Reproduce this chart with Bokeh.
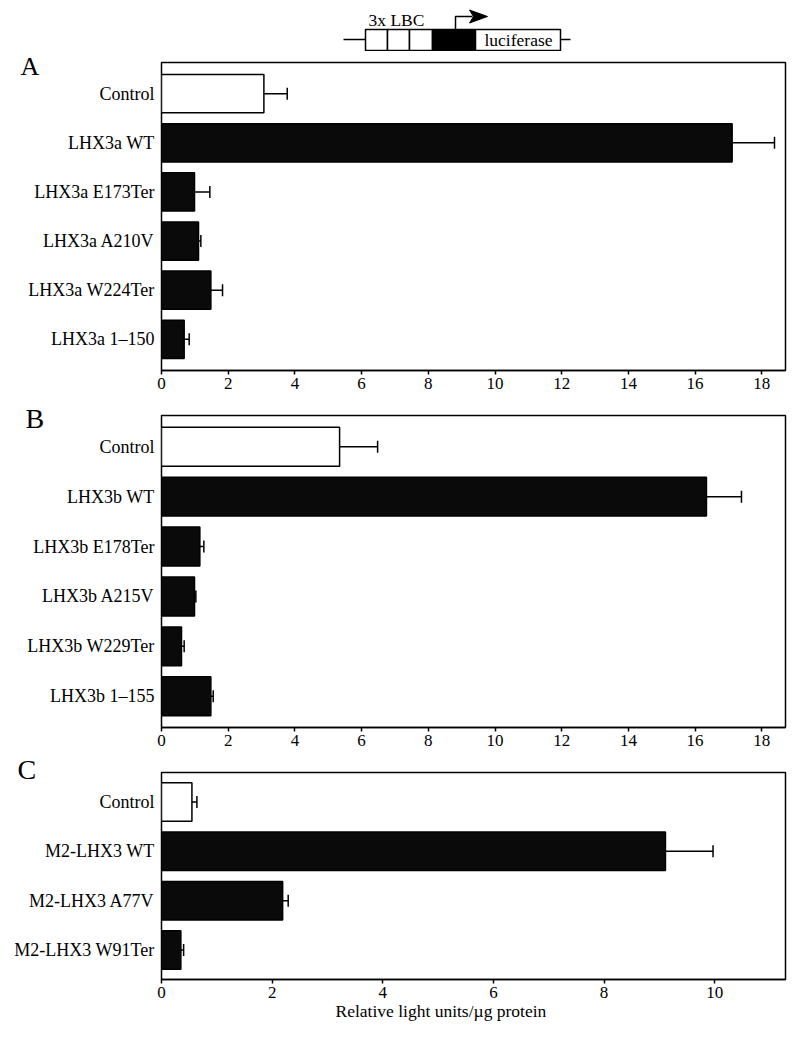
from bokeh.plotting import figure
from bokeh.models import (FactorRange, Range1d, ColumnDataSource, Whisker, TeeHead,
                          FixedTicker, Title)
from bokeh.layouts import column
from bokeh.embed import file_html
from bokeh.resources import INLINE
from bokeh.core.properties import value

FONT = "Liberation Serif"

# ---- data ----
cats_a = ["Control", "LHX3a WT", "LHX3a E173Ter", "LHX3a A210V", "LHX3a W224Ter", "LHX3a 1\u2013150"]
vals_a = [3.07, 17.11, 0.99, 1.11, 1.48, 0.68]
errs_a = [0.70, 1.27, 0.46, 0.07, 0.35, 0.15]

cats_b = ["Control", "LHX3b WT", "LHX3b E178Ter", "LHX3b A215V", "LHX3b W229Ter", "LHX3b 1\u2013155"]
vals_b = [5.34, 16.34, 1.15, 0.99, 0.60, 1.48]
errs_b = [1.14, 1.05, 0.12, 0.04, 0.08, 0.07]

cats_c = ["Control", "M2-LHX3 WT", "M2-LHX3 A77V", "M2-LHX3 W91Ter"]
vals_c = [0.55, 9.11, 2.19, 0.35]
errs_c = [0.09, 0.86, 0.10, 0.05]

ticks_ab = [0, 2, 4, 6, 8, 10, 12, 14, 16, 18]
ticks_c = [0, 2, 4, 6, 8, 10]

x_label = "Relative light units/\u00b5g protein"

# schematic of the reporter construct (pixel coordinates)
diag_box_left = [365, 387, 409, 432, 475]
diag_box_right = [387, 409, 432, 475, 560]
diag_box_fill = ["white", "white", "white", "black", "white"]

LEFT = 161
FRAME_W = 624
RIGHT = 10
DIAG_H = 51


def panel(cats, vals, errs, xmax, ticks, frame_h, top, bottom, pad,
          letter, lsize, loff, lstand):
    fills = ["white"] + ["#0a0a0a"] * (len(cats) - 1)
    src = ColumnDataSource(dict(cat=cats, val=vals,
                                up=[v + e for v, e in zip(vals, errs)], fill=fills))
    yr = FactorRange(factors=list(reversed(cats)), range_padding=pad,
                     range_padding_units="percent")
    p = figure(frame_width=FRAME_W, frame_height=frame_h, x_range=Range1d(0, xmax), y_range=yr,
               output_backend="svg", toolbar_location=None,
               min_border_left=LEFT, min_border_right=RIGHT,
               min_border_top=top, min_border_bottom=bottom,
               background_fill_color="white", border_fill_color="white")
    p.hbar(y="cat", left=0, right="val", height=0.78, fill_color="fill",
           line_color="black", line_width=1.5, source=src)
    w = Whisker(base="cat", lower="val", upper="up", source=src, dimension="width",
                line_color="black", line_width=1.5,
                upper_head=TeeHead(size=12, line_color="black", line_width=1.5),
                lower_head=None)
    p.add_layout(w)
    p.grid.visible = False
    p.outline_line_color = "black"
    p.outline_line_width = 1.5
    p.outline_line_alpha = 1.0

    xa = p.xaxis[0]
    xa.ticker = FixedTicker(ticks=ticks)
    xa.major_label_text_font = FONT
    xa.major_label_text_font_size = "17px"
    xa.major_label_text_color = "black"
    xa.major_tick_out = 4
    xa.major_tick_in = 0
    xa.major_tick_line_width = 1.5
    xa.major_tick_line_color = "black"
    xa.minor_tick_line_color = None
    xa.axis_line_color = "black"
    xa.axis_line_width = 1.5
    xa.major_label_standoff = 3

    ya = p.yaxis[0]
    ya.major_tick_line_color = None
    ya.minor_tick_line_color = None
    ya.major_tick_out = 0
    ya.major_tick_in = 0
    ya.axis_line_color = None
    ya.major_label_standoff = 7
    ya.major_label_text_font = FONT
    ya.major_label_text_font_size = "18px"
    ya.major_label_text_color = "black"

    t = p.title
    t.text = letter
    t.align = "left"
    t.offset = loff
    t.vertical_align = "bottom"
    t.standoff = lstand
    t.text_font = FONT
    t.text_font_size = lsize
    t.text_font_style = "normal"
    t.text_color = "black"
    return p


# diagram figure (data coordinates equal reference pixels, drawn 4px higher)
d = figure(frame_width=FRAME_W, frame_height=DIAG_H, x_range=Range1d(LEFT, LEFT + FRAME_W),
           y_range=Range1d(DIAG_H + 4, 4),
           x_axis_type=None, y_axis_type=None, output_backend="svg", toolbar_location=None,
           min_border_left=LEFT, min_border_right=RIGHT, min_border_top=0, min_border_bottom=0,
           background_fill_color="white", border_fill_color="white")
d.grid.visible = False
d.outline_line_color = None
d.segment(x0=[343], y0=[43], x1=[570], y1=[43], line_color="black", line_width=1.5)
d.quad(left=diag_box_left, right=diag_box_right, top=[33] * 5, bottom=[54] * 5,
       fill_color=diag_box_fill, line_color="black", line_width=1.5)
d.line(x=[455, 455, 472], y=[33, 20, 20], line_color="black", line_width=1.5)
d.patch(x=[469, 487, 469, 473], y=[13.5, 20, 26.5, 20], fill_color="black", line_color="black")
d.text(x=[368], y=[23], text=["3x LBC"], text_font=value(FONT), text_font_size="17.5px",
       text_baseline="middle", text_align="left", text_color="black")
d.text(x=[518], y=[43.5], text=["luciferase"], text_font=value(FONT), text_font_size="17.5px",
       text_baseline="middle", text_align="center", text_color="black")

pa = panel(cats_a, vals_a, errs_a, 18.71, ticks_ab, 308, 62 - DIAG_H, 34, 0.045,
           "A", "26px", -141, -37)
pb = panel(cats_b, vals_b, errs_b, 18.71, ticks_ab, 312, 11, 28, 0.042,
           "B", "28px", -136, -36)
pc = panel(cats_c, vals_c, errs_c, 11.28, ticks_c, 207, 17, 51, 0.049,
           "C", "28px", -144, -24)
pc.add_layout(Title(text=x_label, align="left", offset=174, vertical_align="top", standoff=0,
                    text_font=FONT, text_font_size="17.5px", text_font_style="normal",
                    text_color="black"), "below")

layout = column(d, pa, pb, pc, spacing=0)
open("out.html", "w").write(file_html(layout, INLINE))
